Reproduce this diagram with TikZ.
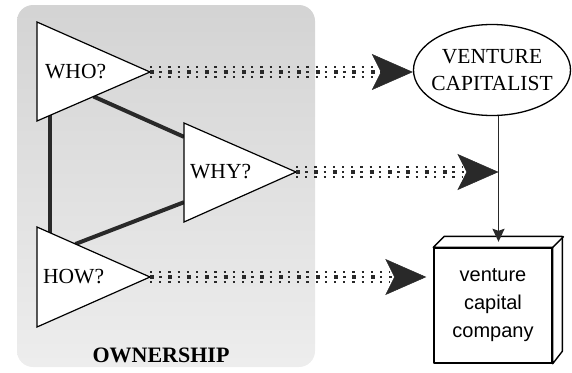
\documentclass[tikz,border=0pt]{standalone}
\usepackage{fontspec}
\setmainfont{Liberation Serif}
\newfontfamily\boxfont{Liberation Sans}
\usetikzlibrary{arrows.meta,calc,shapes.geometric}

\definecolor{inkdark}{gray}{0.16}

\begin{document}
\begin{tikzpicture}[x=1pt,y=1pt,
  qtri/.style={draw=black, line width=1.2pt, fill=white, line join=miter},
  qlabel/.style={anchor=west, inner sep=0pt, font=\fontsize{21.5}{26}\selectfont},
  link/.style={draw=inkdark, line width=4pt},
  dotrow/.style={draw=inkdark, arrows=-, line width=2.1pt,
    dash pattern=on 2.1pt off 7.1pt, shorten >=36pt},
  dotband/.style={draw=inkdark, line width=2.3pt, dash pattern=on 2.3pt off 6.9pt,
    -{Stealth[length=41pt,width=36pt,inset=9pt,line width=0.5pt]},
    preaction={dotrow, transform canvas={yshift=5pt}},
    preaction={dotrow, transform canvas={yshift=-5pt}},
    preaction={draw=inkdark, arrows=-, line width=4pt,
      dash pattern=on 4pt off 14.4pt, shorten >=38pt}},
  drop/.style={draw=inkdark, line width=1.7pt,
    -{Stealth[length=13pt,width=12pt,inset=2pt]}},
  boxline/.style={draw=black, line width=1.4pt, line join=round}
]
\useasboundingbox (0,0) rectangle (572,-372);

% ownership panel
\shade[top color=black!17, bottom color=black!7, rounded corners=16pt]
  (17,-5) rectangle (315,-367);

% triangle corners: A top, B bottom, T apex
\coordinate (whoA) at (37,-22);  \coordinate (whoB) at (37,-121);  \coordinate (whoT) at (150,-72);
\coordinate (whyA) at (184,-123); \coordinate (whyB) at (184,-222); \coordinate (whyT) at (296,-172);
\coordinate (howA) at (37,-227); \coordinate (howB) at (37,-327); \coordinate (howT) at (150,-277);

% links between the questions
\draw[link] ($(whoB)!0.5!(whoT)$) -- ($(whyA)!0.14!(whyB)$);
\draw[link] ($(whoB)!0.115!(whoT)$) -- ($(howA)!0.115!(howT)$);
\draw[link] ($(whyA)!0.8!(whyB)$) -- ($(howA)!0.34!(howT)$);

% question triangles
\draw[qtri] (whoA) -- (whoT) -- (whoB) -- cycle;
\draw[qtri] (whyA) -- (whyT) -- (whyB) -- cycle;
\draw[qtri] (howA) -- (howT) -- (howB) -- cycle;
\node[qlabel] (who) at (45,-72) {WHO?};
\node[qlabel] (why) at (190,-172) {WHY?};
\node[qlabel] (how) at (43,-277) {HOW?};

\node[inner sep=0pt, font=\bfseries\fontsize{22}{26}\selectfont] (own) at (161,-355) {OWNERSHIP};

% venture capitalist
\node[ellipse, draw=black, line width=1.3pt, minimum width=157pt, minimum height=91pt,
  inner sep=0pt] (vc) at (492,-70) {};
\node[align=center, inner sep=0pt, font=\fontsize{21.5}{27}\selectfont] (vctext) at (vc) {VENTURE\\CAPITALIST};

% venture capital company (3-D box)
\node[boxline, fill=white, minimum width=118pt, minimum height=115pt, inner sep=0pt,
  align=center, font=\boxfont\fontsize{20}{28}\selectfont] (vcc) at (493,-305.5)
  {venture\\capital\\company};
\draw[boxline, fill=white] (vcc.north west) -- ++(11,11) -- ++(118,0) -- ++(0,-115)
  -- (vcc.south east) -- (vcc.north east) -- cycle;
\draw[boxline] (vcc.north east) -- ++(11,11);
\coordinate (vcctop) at ($(vcc.north)+(5.5,5.5)$);

% connectors
\draw[drop] (vc.south -| vcctop) -- (vcctop);
\draw[dotband] (whoT) -- (whoT -| vc.west);
\draw[dotband] (whyT) -- (whyT -| vcctop);
\coordinate (howend) at ($(howT -| vcc.west)+(-7,0)$);
\draw[dotband] (howT) -- (howend);
\end{tikzpicture}
\end{document}
